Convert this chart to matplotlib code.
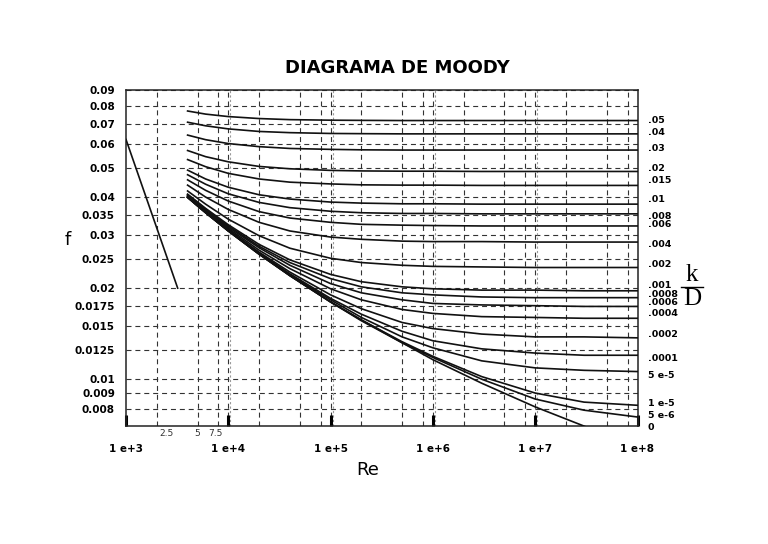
import matplotlib
matplotlib.use("Agg")
import matplotlib.pyplot as plt
from matplotlib.lines import Line2D
from matplotlib.transforms import offset_copy

# ---------------- data ----------------
re_points = [4e3, 6e3, 1e4, 2e4, 4e4, 1e5, 2e5, 5e5, 1e6, 3e6, 1e7, 3e7, 1e8]

roughness_labels = [".05", ".04", ".03", ".02", ".015", ".01", ".008", ".006",
                    ".004", ".002", ".001", ".0008", ".0006", ".0004", ".0002",
                    ".0001", "5 e-5", "1 e-5", "5 e-6", "0"]

f_005 = [0.0770, 0.0752, 0.0738, 0.0727, 0.0721, 0.0718, 0.0717, 0.0716, 0.0716, 0.0716, 0.0716, 0.0716, 0.0716]
f_004 = [0.0707, 0.0688, 0.0672, 0.0659, 0.0653, 0.0649, 0.0648, 0.0647, 0.0647, 0.0647, 0.0647, 0.0647, 0.0647]
f_003 = [0.0641, 0.0619, 0.0601, 0.0587, 0.0579, 0.0575, 0.0573, 0.0572, 0.0572, 0.0572, 0.0572, 0.0572, 0.0572]
f_002 = [0.0570, 0.0544, 0.0523, 0.0505, 0.0496, 0.0490, 0.0488, 0.0487, 0.0487, 0.0486, 0.0486, 0.0486, 0.0486]
f_0015 = [0.0532, 0.0504, 0.0479, 0.0459, 0.0448, 0.0442, 0.0439, 0.0438, 0.0438, 0.0437, 0.0437, 0.0437, 0.0437]
f_001 = [0.0491, 0.0459, 0.0431, 0.0407, 0.0394, 0.0385, 0.0382, 0.0380, 0.0380, 0.0379, 0.0379, 0.0379, 0.0379]
f_0008 = [0.0474, 0.0441, 0.0410, 0.0384, 0.0369, 0.0359, 0.0355, 0.0353, 0.0353, 0.0352, 0.0352, 0.0352, 0.0352]
f_0006 = [0.0456, 0.0421, 0.0388, 0.0358, 0.0341, 0.0330, 0.0325, 0.0323, 0.0322, 0.0321, 0.0321, 0.0321, 0.0321]
f_0004 = [0.0438, 0.0400, 0.0364, 0.0330, 0.0309, 0.0295, 0.0290, 0.0286, 0.0285, 0.0285, 0.0284, 0.0284, 0.0284]
f_0002 = [0.0419, 0.0379, 0.0338, 0.0298, 0.0271, 0.0251, 0.0243, 0.0238, 0.0236, 0.0235, 0.0234, 0.0234, 0.0234]
f_00010 = [0.0409, 0.0367, 0.0324, 0.0279, 0.0248, 0.0222, 0.0210, 0.0202, 0.0199, 0.0197, 0.0197, 0.0196, 0.0196]
f_00008 = [0.0407, 0.0365, 0.0321, 0.0275, 0.0243, 0.0215, 0.0202, 0.0193, 0.0190, 0.0187, 0.0186, 0.0186, 0.0186]
f_00006 = [0.0405, 0.0362, 0.0318, 0.0272, 0.0238, 0.0207, 0.0193, 0.0183, 0.0178, 0.0176, 0.0175, 0.0174, 0.0174]
f_00004 = [0.0403, 0.0360, 0.0315, 0.0267, 0.0232, 0.0199, 0.0183, 0.0170, 0.0165, 0.0161, 0.0160, 0.0159, 0.0159]
f_00002 = [0.0401, 0.0357, 0.0312, 0.0263, 0.0226, 0.0190, 0.0171, 0.0154, 0.0147, 0.0141, 0.0138, 0.0138, 0.0137]
f_00001 = [0.0400, 0.0356, 0.0310, 0.0261, 0.0223, 0.0185, 0.0164, 0.0144, 0.0134, 0.0126, 0.0122, 0.0120, 0.0120]
f_5em5 = [0.0400, 0.0356, 0.0310, 0.0260, 0.0221, 0.0183, 0.0160, 0.0138, 0.0127, 0.0115, 0.0109, 0.0107, 0.0106]
f_1em5 = [0.0399, 0.0355, 0.0309, 0.0259, 0.0220, 0.0180, 0.0157, 0.0133, 0.0119, 0.0102, 0.0090, 0.0084, 0.0082]
f_5em6 = [0.0399, 0.0355, 0.0309, 0.0259, 0.0220, 0.0180, 0.0157, 0.0132, 0.0118, 0.0100, 0.0086, 0.0079, 0.0075]
f_smooth = [0.0399, 0.0355, 0.0309, 0.0259, 0.0220, 0.0180, 0.0156, 0.0132, 0.0116, 0.0097, 0.0081, 0.0070, 0.0059]

curves = [f_005, f_004, f_003, f_002, f_0015, f_001, f_0008, f_0006, f_0004,
          f_0002, f_00010, f_00008, f_00006, f_00004, f_00002, f_00001,
          f_5em5, f_1em5, f_5em6, f_smooth]

laminar_re = [1000, 3200]
laminar_f = [0.062, 0.020]

y_ticks = [0.008, 0.009, 0.01, 0.0125, 0.015, 0.0175, 0.02, 0.025, 0.03,
           0.035, 0.04, 0.05, 0.06, 0.07, 0.08, 0.09]
y_tick_labels = ["0.008", "0.009", "0.01", "0.0125", "0.015", "0.0175", "0.02",
                 "0.025", "0.03", "0.035", "0.04", "0.05", "0.06", "0.07",
                 "0.08", "0.09"]
x_major = [1e3, 1e4, 1e5, 1e6, 1e7, 1e8]
x_major_labels = ["1 e+3", "1 e+4", "1 e+5", "1 e+6", "1 e+7", "1 e+8"]
x_minor_labels_pos = [2.5e3, 5e3, 7.5e3]
x_minor_labels = ["2.5", "5", "7.5"]
grid_mults = [2, 5, 8]

# small vertical nudges (points) so right-hand labels do not collide
label_nudge_pt = [0.3, 1.0, 1.2, 1.8, 3.4, 3.0, -1.8, 1.0, -2.0, 2.0,
                  3.6, 2.6, 3.0, 3.2, 2.5, -2.6, -2.9, 1.2, 0.9, -1.4]

# ---------------- figure ----------------
W, H = 768, 544
fig = plt.figure(figsize=(W / 100, H / 100), dpi=100)
fig.patch.set_facecolor("white")

left, right, top, bottom = 126, 637.5, 90.5, 425.7
ax = fig.add_axes([left / W, 1 - bottom / H, (right - left) / W, (bottom - top) / H])
ax.set_xscale("log")
ax.set_yscale("log")
ax.set_xlim(1e3, 1e8)
ax.set_ylim(0.00702, 0.0893)

dash = (0, (4.5, 3.5))
for yv in y_ticks:
    ax.axhline(yv, color="#333333", lw=0.8, ls=dash, zorder=1)
for d in [1e3, 1e4, 1e5, 1e6, 1e7]:
    for m in grid_mults:
        ax.axvline(d * m, color="#333333", lw=0.8, ls=dash, zorder=1)
for d in x_major[1:-1]:
    ax.axvline(d, color="#333333", lw=0.8, ls=dash, zorder=1)
    ax.axvline(d * 1.05, color="#999999", lw=0.8, ls=(0, (2, 2)), zorder=1)

for f in curves:
    ax.plot(re_points, f, color="#111111", lw=1.2, zorder=3)
ax.plot(laminar_re, laminar_f, color="#111111", lw=1.2, zorder=3)

ax.yaxis.set_minor_locator(matplotlib.ticker.NullLocator())
ax.set_yticks(y_ticks)
ax.set_yticklabels(y_tick_labels, fontsize=7.5, fontweight="bold",
                   family="DejaVu Sans")
ax.tick_params(axis="y", which="both", length=0, pad=8)

ax.xaxis.set_minor_locator(matplotlib.ticker.NullLocator())
ax.set_xticks(x_major)
ax.set_xticklabels(x_major_labels, fontsize=7.5, fontweight="bold",
                   family="DejaVu Sans")
ax.tick_params(axis="x", which="major", direction="in", length=8, width=2.2,
               pad=13, color="black")

for xv, t in zip(x_minor_labels_pos, x_minor_labels):
    ax.text(xv, -0.022, t, transform=ax.get_xaxis_transform(), ha="center",
            va="center", fontsize=6.5, color="#333333", family="DejaVu Sans")

for s in ax.spines.values():
    s.set_linewidth(1.1)
    s.set_color("#222222")

trans = ax.get_yaxis_transform()
ylo = ax.get_ylim()[0]
for lab, f, nud in zip(roughness_labels, curves, label_nudge_pt):
    yv = max(f[-1], ylo)
    tr = offset_copy(trans, fig=fig, x=0, y=nud, units="points")
    ax.text(1.02, yv, lab, transform=tr, ha="left", va="center",
            fontsize=6.8, fontweight="bold", family="DejaVu Sans", clip_on=False)

fig.text(397 / W, 1 - 68 / H, "DIAGRAMA DE MOODY", ha="center", va="center",
         fontsize=13, fontweight="bold", family="DejaVu Sans")
fig.text(68 / W, 1 - 240 / H, "f", ha="center", va="center", fontsize=13,
         family="DejaVu Sans")
fig.text(368 / W, 1 - 470 / H, "Re", ha="center", va="center", fontsize=13,
         family="DejaVu Sans")

fig.text(692 / W, 1 - 275 / H, "k", ha="center", va="center", fontsize=18,
         family="Liberation Serif")
fig.text(692 / W, 1 - 299 / H, "D", ha="center", va="center", fontsize=18,
         family="Liberation Serif")
fig.add_artist(Line2D([681 / W, 703 / W], [1 - 287 / H, 1 - 287 / H],
                      color="black", lw=1.0, transform=fig.transFigure))

fig.savefig("out.png", dpi=100)
